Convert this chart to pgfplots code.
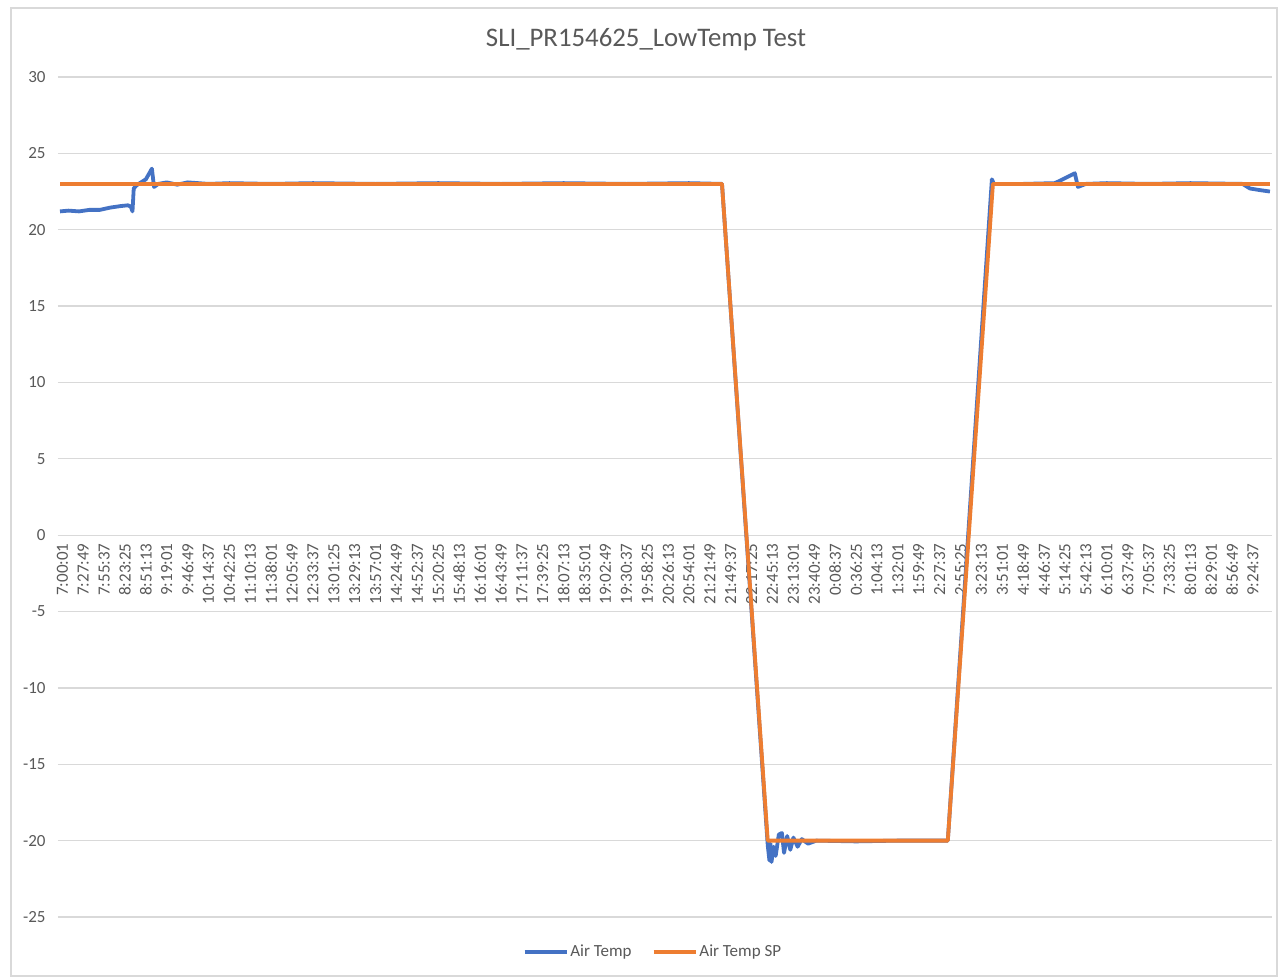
\documentclass[border=0pt]{standalone}
\usepackage{fontspec}
\setmainfont{Carlito}
\usepackage{pgfplots}
\pgfplotsset{compat=1.18}
\definecolor{exblue}{HTML}{4472C4}
\definecolor{exorange}{HTML}{ED7D31}
\definecolor{txtgray}{HTML}{595959}
\definecolor{gridgray}{HTML}{D9D9D9}
\begin{document}
\begin{tikzpicture}
\useasboundingbox (0,0) rectangle (639.5pt,489pt);
\fill[white] (0,0) rectangle (639.5pt,489pt);
\draw[gridgray, line width=0.6pt] (5.5pt,1pt) rectangle (638.5pt,485pt);
\node[text=txtgray, font=\fontsize{13.4}{15}\selectfont] at (323pt,469pt) {SLI\_PR154625\_LowTemp Test};
\begin{axis}[
  at={(29pt,30.5pt)}, anchor=south west,
  scale only axis, width=607pt, height=420pt,
  xmin=-0.206, xmax=57.91, ymin=-25, ymax=30,
  axis x line=middle, axis y line=left,
  axis line style={-, draw=gridgray, line width=0.6pt},
  y axis line style={draw=none},
  ymajorgrids=true, grid style={gridgray, line width=0.6pt},
  ytick={-25,-20,...,30},
  xtick={0,...,57},
  xticklabels={7:00:01,7:27:49,7:55:37,8:23:25,8:51:13,9:19:01,9:46:49,10:14:37,10:42:25,11:10:13,11:38:01,12:05:49,12:33:37,13:01:25,13:29:13,13:57:01,14:24:49,14:52:37,15:20:25,15:48:13,16:16:01,16:43:49,17:11:37,17:39:25,18:07:13,18:35:01,19:02:49,19:30:37,19:58:25,20:26:13,20:54:01,21:21:49,21:49:37,22:17:25,22:45:13,23:13:01,23:40:49,0:08:37,0:36:25,1:04:13,1:32:01,1:59:49,2:27:37,2:55:25,3:23:13,3:51:01,4:18:49,4:46:37,5:14:25,5:42:13,6:10:01,6:37:49,7:05:37,7:33:25,8:01:13,8:29:01,8:56:49,9:24:37},
  major tick length=0pt,
  tick style={draw=none},
  xticklabel style={rotate=90, anchor=east, inner xsep=4pt, inner ysep=0pt, text=txtgray, font=\fontsize{8.5}{10}\selectfont},
  yticklabel style={anchor=east, inner sep=0pt, xshift=-6pt, text=txtgray, font=\fontsize{8.5}{10}\selectfont},
  /pgf/number format/assume math mode=true,
  legend columns=2,
  legend style={at={(0.49,-0.0417)}, anchor=center, draw=none, fill=none,
    font=\fontsize{8.5}{10}\selectfont, text=txtgray,
    nodes={inner xsep=1pt},
    /tikz/every even column/.append style={column sep=9pt}},
  legend image code/.code={\draw[#1] (0pt,0pt) -- (21pt,0pt);},
  legend cell align=left,
  clip=false,
]
\addplot[exblue, line width=1.9pt, line join=round] coordinates {
(-0.11,21.2) (0.3,21.25) (0.8,21.2) (1.3,21.3) (1.8,21.3) (2.3,21.45) (2.8,21.55) (3.15,21.6) (3.28,21.5) (3.36,21.2) (3.42,22.7) (3.55,22.9) (3.71,23.05) (4.0,23.3) (4.29,24.0) (4.39,22.8) (4.6,23.0) (5.0,23.1) (5.5,22.95) (6.0,23.1) (7,23.0) (8,23.05) (10,23.0) (12,23.05) (15,23.0) (18,23.05) (21,23.0) (24,23.05) (27,23.0) (30,23.05) (31.58,23.0) (33.77,-20.3) (33.85,-21.3) (33.9,-20.2) (33.95,-21.4) (34.05,-20.4) (34.15,-21.0) (34.3,-19.6) (34.45,-19.5) (34.55,-20.8) (34.7,-19.7) (34.85,-20.6) (35.0,-19.8) (35.2,-20.4) (35.4,-19.9) (35.7,-20.2) (36.1,-20.0) (38,-20.05) (40,-20.0) (42.39,-20.0) (44.5,23.3) (44.6,23.0) (46,23.0) (47.5,23.05) (47.75,23.2) (48.47,23.7) (48.62,22.8) (49,23.0) (50,23.05) (52,23.0) (54,23.05) (56.5,23.0) (56.85,22.7) (57.3,22.6) (57.81,22.5)
};
\addlegendentry{Air Temp}
\addplot[exorange, line width=1.9pt, line join=round] coordinates {
(-0.11,23) (31.58,23) (33.77,-20) (42.39,-20) (44.55,23) (57.81,23)
};
\addlegendentry{Air Temp SP}
\end{axis}
\end{tikzpicture}
\end{document}
